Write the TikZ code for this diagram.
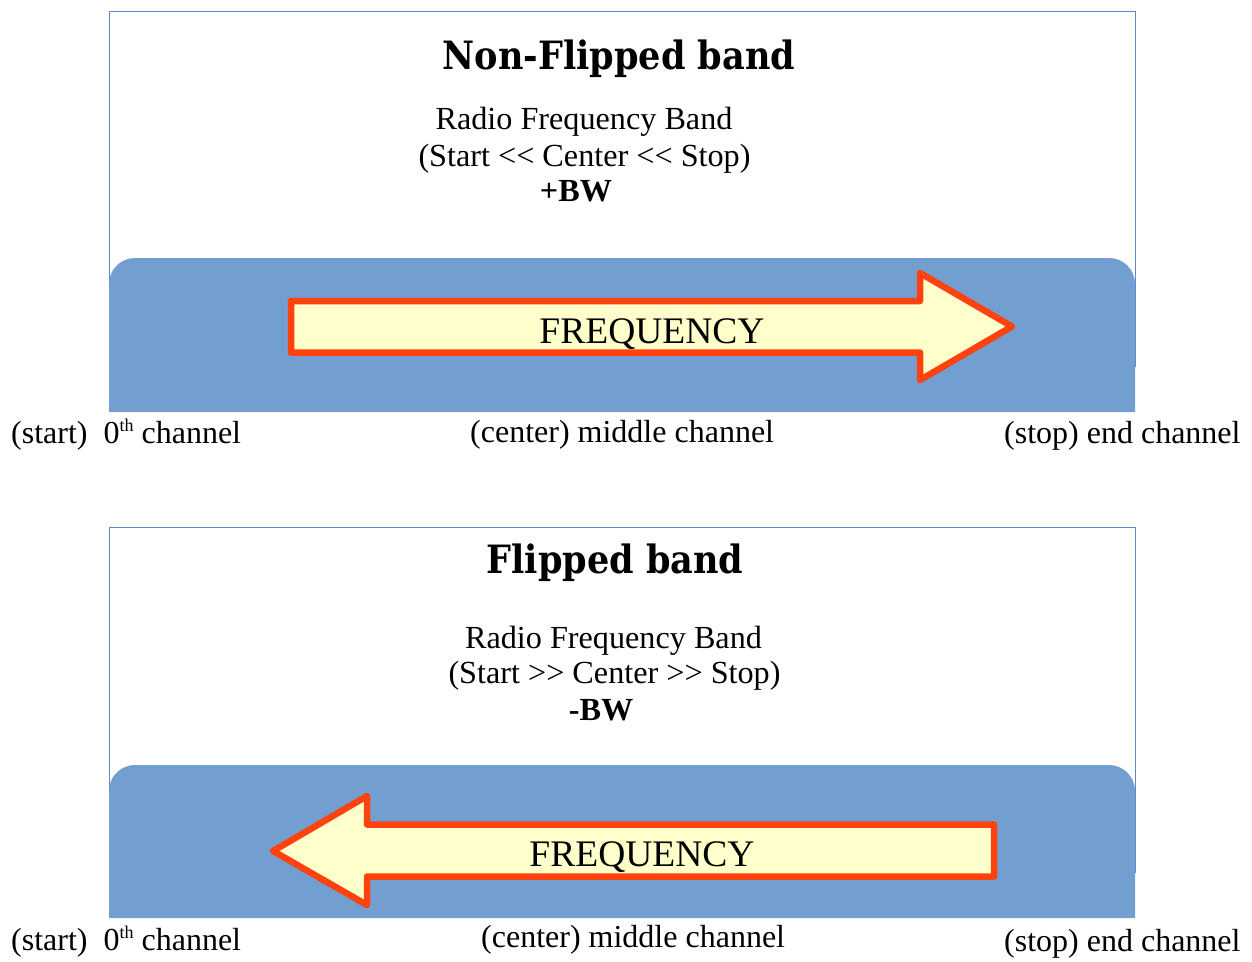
\documentclass[tikz,border=0pt]{standalone}
\usepackage{fontspec}
\setmainfont{Liberation Serif}
\newfontfamily\titlefont{DejaVu Serif Condensed}
\definecolor{bandblue}{HTML}{729FCF}
\definecolor{framecol}{HTML}{5A88CC}
\definecolor{arroworange}{HTML}{FF420E}
\definecolor{arrowfill}{HTML}{FFFFCC}
\newcommand{\supth}{\raisebox{12pt}{\fontsize{18}{18}\selectfont th}}
\tikzset{
  frame/.style={draw=framecol, line width=1pt},
  band/.style={fill=bandblue, draw=none},
  freqarrow/.style={draw=arroworange, fill=arrowfill, line width=6.5pt, line join=round},
  titletxt/.style={anchor=base, inner sep=0pt, font=\titlefont\bfseries\fontsize{39}{42}\selectfont},
  bodytxt/.style={anchor=base, inner sep=0pt, font=\fontsize{32.2}{36}\selectfont},
  freqtxt/.style={anchor=base, inner sep=0pt, font=\fontsize{37.5}{40}\selectfont},
  labeltxt/.style={anchor=base west, inner sep=0pt, font=\fontsize{32}{36}\selectfont}
}
\begin{document}
\begin{tikzpicture}[x=1pt,y=-1pt]
\useasboundingbox (0,0) rectangle (1252,961);
% ---------- top panel ----------
\draw[frame] (109,11) rectangle (1135,366);
\path[band] (109,412) -- (109,284) arc[start angle=180,end angle=270,radius=26] -- (1109,258) arc[start angle=270,end angle=360,radius=26] -- (1135,412) -- cycle;
\draw[freqarrow] (291,301) -- (920,301) -- (920,273) -- (1012,326.5) -- (920,380) -- (920,352.5) -- (291,352.5) -- cycle;
\node[titletxt] (t1) at (619,69) {Non-Flipped band};
\node[bodytxt] (r1) at (584,129) {Radio Frequency Band};
\node[bodytxt] (s1) at (584.5,166.5) {(Start <\kern0pt< Center <\kern0pt< Stop)};
\node[bodytxt] (b1) at (576,201.5) {\bfseries +BW};
\node[freqtxt] (f1) at (652,343.3) {FREQUENCY};
\node[labeltxt] (st1) at (11,443) {(start)\ \ 0\supth\ channel};
\node[labeltxt] (c1) at (470,442) {(center) middle channel};
\node[labeltxt] (e1) at (1004,443.3) {(stop) end channel};
% ---------- bottom panel ----------
\draw[frame] (109,527) rectangle (1135,872);
\path[band] (109,918) -- (109,791) arc[start angle=180,end angle=270,radius=26] -- (1109,765) arc[start angle=270,end angle=360,radius=26] -- (1135,918) -- cycle;
\draw[freqarrow] (994,824.5) -- (367,824.5) -- (367,796) -- (273,851) -- (367,905) -- (367,876.5) -- (994,876.5) -- cycle;
\node[titletxt] (t2) at (615,573.3) {Flipped band};
\node[bodytxt] (r2) at (613.5,648) {Radio Frequency Band};
\node[bodytxt] (s2) at (614.5,683) {(Start >\kern0pt> Center >\kern0pt> Stop)};
\node[bodytxt] (b2) at (601,720) {\bfseries -BW};
\node[freqtxt] (f2) at (642,866) {FREQUENCY};
\node[labeltxt] (st2) at (11,950) {(start)\ \ 0\supth\ channel};
\node[labeltxt] (c2) at (481,947.7) {(center) middle channel};
\node[labeltxt] (e2) at (1004,951.7) {(stop) end channel};
\end{tikzpicture}
\end{document}
